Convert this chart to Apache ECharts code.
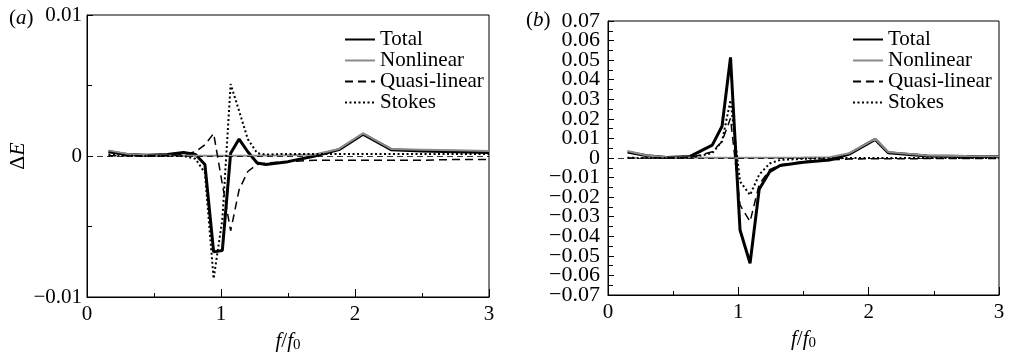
<!DOCTYPE html>
<html>
<head>
<meta charset="utf-8">
<script src="https://cdn.jsdelivr.net/npm/echarts@6/dist/echarts.min.js"></script>
<style>
  html, body { margin: 0; padding: 0; background: #fff; }
  #chart-container { width: 1016px; height: 359px; }
</style>
</head>
<body>
<div id="chart-container"></div>
<script>
// panel (a)
var freqA = [0.16, 0.3, 0.45, 0.6, 0.72, 0.81, 0.88, 0.945, 1.01, 1.072, 1.135, 1.2, 1.27, 1.335, 1.5, 1.7, 1.88, 2.06, 2.27, 2.5, 2.75, 3.0];
var totalA = [0.0003, 0.0001, 0.00005, 0.0001, 0.00025, 0.0001, -0.0006, -0.0068, -0.0067, 0.0002, 0.0012, 0.0003, -0.0005, -0.0006, -0.0004, 0.0, 0.00045, 0.00155, 0.00045, 0.00035, 0.0003, 0.00025];
var nonlinearA = [0.0004, 0.00015, 0.00005, 0.00003, 0.00002, 0.00002, 0.00002, 0.00002, 0.00002, 0.00002, 0.00002, 0.00002, 0.00002, 0.00003, 0.00005, 0.0001, 0.0005, 0.0016, 0.0005, 0.00045, 0.0004, 0.00035];
var quasiA = [0.00002, 0.00001, 0.00001, 0.00002, 0.0001, 0.0003, 0.0008, 0.0016, -0.002, -0.0053, -0.0024, -0.0011, -0.0006, -0.0005, -0.0004, -0.0003, -0.0003, -0.0003, -0.0003, -0.0003, -0.00025, -0.00025];
var stokesA = [0.0001, 0.00002, 0, 0, 0, -0.0002, -0.0012, -0.0087, -0.0045, 0.0051, 0.0032, 0.0012, 0.0002, 0.0001, 0.00015, 0.00015, 0.00015, 0.00015, 0.00015, 0.00015, 0.00015, 0.00015];

// panel (b)
var freqB = [0.15, 0.3, 0.45, 0.63, 0.8, 0.875, 0.94, 1.013, 1.09, 1.16, 1.24, 1.32, 1.5, 1.7, 1.85, 2.05, 2.15, 2.45, 2.75, 3.0];
var totalB = [0.003, 0.0011, 0.0003, 0.0008, 0.0066, 0.0162, 0.0514, -0.0368, -0.0538, -0.016, -0.007, -0.0038, -0.0022, -0.001, 0.002, 0.0095, 0.0027, 0.001, 0.0008, 0.0006];
var nonlinearB = [0.0036, 0.0013, 0.0004, 0.0002, 0.0001, 0.0001, 0.0001, 0.0001, 0.0001, 0.0001, 0.0001, 0.0001, 0.0002, 0.0004, 0.0024, 0.0098, 0.003, 0.0013, 0.001, 0.0008];
var quasiB = [0, 0, 0, 0.0002, 0.0032, 0.0085, 0.0203, -0.024, -0.0325, -0.0135, -0.006, -0.0035, -0.0018, -0.001, -0.0005, -0.0004, -0.0004, -0.0003, -0.0003, -0.0003];
var stokesB = [0.0001, 0, 0, 0.0001, 0.0025, 0.0085, 0.0296, -0.012, -0.0189, -0.0085, -0.0028, -0.001, -0.0004, -0.0002, 0, 0, 0, 0, 0, 0];

var seriesNames = ["Total", "Nonlinear", "Quasi-linear", "Stokes"];
var xTicks = [0, 1, 2, 3];

var font = "Liberation Serif";

var dom = document.getElementById("chart-container");
var myChart = echarts.init(dom, null, { renderer: "canvas" });

function pairs(xs, ys) {
  return xs.map(function (x, i) { return [x, ys[i]]; });
}

function fmtY(v) {
  if (Math.abs(v) < 1e-9) return "0";
  return (v < 0 ? "\u2212" : "") + Math.abs(v).toFixed(2);
}

// panel (b) labels sit 19.6px apart, so ECharts would drop the ones next to
// the ends; split them over two stacked axes (odd / even hundredths)
function oddOnly(v) {
  return Math.abs(Math.round(v * 100)) % 2 === 1 ? fmtY(v) : "";
}
function evenOnly(v) {
  return Math.abs(Math.round(v * 100)) % 2 === 0 ? fmtY(v) : "";
}

var styles = {
  "Total": { color: "#000", width: 3, type: "solid" },
  "Nonlinear": { color: "#8a8a8a", width: 2, type: "solid" },
  "Quasi-linear": { color: "#000", width: 1.5, type: [8, 5] },
  "Stokes": { color: "#000", width: 2, type: [2, 2.5] },
};

function makeSeries(name, xs, ys, idx) {
  var st = styles[name];
  var s = {
    name: name,
    type: "line",
    xAxisIndex: idx,
    yAxisIndex: idx,
    symbol: "none",
    animation: false,
    data: pairs(xs, ys),
    lineStyle: { color: st.color, width: st.width, type: st.type },
    itemStyle: { color: st.color },
  };
  if (name === "Total") {
    // thin dashed zero line
    s.markLine = {
      silent: true,
      symbol: "none",
      label: { show: false },
      lineStyle: { color: "#000", width: 0.8, type: [6, 4] },
      data: [{ yAxis: 0 }],
    };
  }
  return s;
}

function xAxisFor(idx) {
  return {
    type: "value",
    gridIndex: idx,
    min: 0,
    max: 3,
    interval: 1,
    name: "{i|f}{n|/}{i|f}{s|0}",
    nameLocation: "middle",
    nameGap: 33,
    nameTextStyle: {
      rich: {
        i: { fontFamily: font, fontSize: 21, fontStyle: "italic", color: "#000" },
        n: { fontFamily: font, fontSize: 21, color: "#000" },
        s: { fontFamily: font, fontSize: 15, color: "#000", verticalAlign: "bottom", padding: [8, 0, 0, 0] },
      },
    },
    axisLine: { show: true, onZero: false, lineStyle: { color: "#000", width: 1 } },
    axisTick: { show: true, inside: true, length: 8, lineStyle: { color: "#000" } },
    minorTick: { show: true, splitNumber: 2, length: 4, lineStyle: { color: "#000" } },
    splitLine: { show: false },
    axisLabel: {
      fontFamily: font, fontSize: 21, color: "#000", margin: 7,
      formatter: function (v) { return xTicks.indexOf(v) >= 0 ? String(v) : ""; },
    },
  };
}

function yAxisFor(grid, lim, step, margin, size, formatter, bare) {
  return {
    type: "value",
    gridIndex: grid,
    position: "left",
    offset: 0,
    min: -lim,
    max: lim,
    interval: step,
    axisLine: { show: !bare, onZero: false, lineStyle: { color: "#000", width: 1 } },
    axisTick: { show: !bare, inside: true, length: 6, lineStyle: { color: "#000" } },
    minorTick: { show: !bare, splitNumber: 2, length: 5, lineStyle: { color: "#000" } },
    splitLine: { show: false },
    axisLabel: {
      fontFamily: font, fontSize: size, color: "#000", margin: margin,
      formatter: formatter,
    },
  };
}

function legendFor(left) {
  return {
    orient: "vertical",
    left: left,
    top: 24,
    itemWidth: 30,
    itemHeight: 10,
    itemGap: 0,
    data: seriesNames,
    selectedMode: false,
    itemStyle: { opacity: 0 },
    textStyle: { fontFamily: font, fontSize: 21, color: "#000", lineHeight: 20.5 },
  };
}

var series = [];
seriesNames.forEach(function (n) {
  var ys = { "Total": totalA, "Nonlinear": nonlinearA, "Quasi-linear": quasiA, "Stokes": stokesA }[n];
  series.push(makeSeries(n, freqA, ys, 0));
});
seriesNames.forEach(function (n) {
  var ys = { "Total": totalB, "Nonlinear": nonlinearB, "Quasi-linear": quasiB, "Stokes": stokesB }[n];
  series.push(makeSeries(n, freqB, ys, 1));
});

var yA = yAxisFor(0, 0.01, 0.01, 5, 21, fmtY, false);
yA.name = "{n|\u0394}{i|E}";
yA.nameLocation = "middle";
yA.nameRotate = 90;
yA.nameGap = 55;
yA.nameTextStyle = {
  rich: {
    n: { fontFamily: font, fontSize: 22, color: "#000" },
    i: { fontFamily: font, fontSize: 22, fontStyle: "italic", color: "#000" },
  },
};

var option = {
  animation: false,
  backgroundColor: "#fff",
  title: [
    {
      text: "({i|a})",
      left: 4, top: 3,
      textStyle: {
        fontFamily: font, fontSize: 21, fontWeight: "normal", color: "#000",
        rich: { i: { fontFamily: font, fontSize: 21, fontStyle: "italic", color: "#000" } },
      },
    },
    {
      text: "({i|b})",
      left: 521, top: 5,
      textStyle: {
        fontFamily: font, fontSize: 21, fontWeight: "normal", color: "#000",
        rich: { i: { fontFamily: font, fontSize: 21, fontStyle: "italic", color: "#000" } },
      },
    },
  ],
  legend: [legendFor(339), legendFor(847)],
  grid: [
    { left: 87, top: 15, width: 402, height: 282, show: true, borderColor: "#000", borderWidth: 1, backgroundColor: "transparent" },
    { left: 608, top: 21, width: 391, height: 274, show: true, borderColor: "#000", borderWidth: 1, backgroundColor: "transparent" },
  ],
  xAxis: [xAxisFor(0), xAxisFor(1)],
  yAxis: [
    yA,
    yAxisFor(1, 0.07, 0.01, 8, 22, oddOnly, false),
    yAxisFor(1, 0.07, 0.01, 8, 22, evenOnly, true),
  ],
  series: series,
};

myChart.setOption(option);

window.addEventListener("resize", function () {
  myChart.resize();
});
</script>
</body>
</html>
